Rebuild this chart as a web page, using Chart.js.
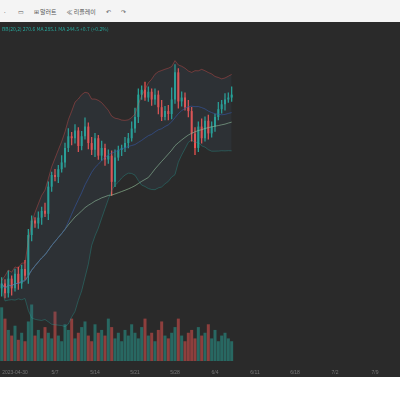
<!DOCTYPE html>
<html><head><meta charset="utf-8">
<script src="https://cdn.jsdelivr.net/npm/chart.js@4"></script>
<style>
body{margin:0;width:400px;height:400px;background:#fff;font-family:"Noto Sans CJK KR","Noto Sans",sans-serif;overflow:hidden}
#bar{height:22px;font-size:6px;color:#555;display:flex;align-items:center;gap:10px;padding-left:2px;border-bottom:1px solid #ddd;background:#f4f4f4}
#wrap{position:absolute;top:22px;left:0;width:400px;height:355px;background:#2a2a2a}
#leg{position:absolute;top:3px;left:2px;font-size:5px;color:#26a69a;z-index:2}
canvas{position:absolute;top:0;left:0}
</style></head><body>
<div id="bar"><span>ㆍ</span><span>▭</span><span>⊞ 알러트</span><span>≪ 리플레이</span><span>↶</span><span>↷</span></div>
<div id="wrap"><div id="leg">BB(20,2) 270.6 MA 285.1 MA 244.5 +0.7 (+0.2%)</div><canvas id="c" width="400" height="355" style="width:400px;height:355px"></canvas></div>
<script>
// closes (price units)
const closes=[110,100,115,105,120,110,125,118,160,175,172,178,185,182,210,222,220,228,235,250,262,260,268,252,262,272,255,248,260,242,250,238,242,215,240,248,250,255,260,270,282,305,310,302,308,300,305,292,282,288,285,300,328,298,302,292,288,265,250,272,260,278,265,272,282,290,295,300,302,305];
const wickUp=[6,4,8,3,5,7,4,9,6,5,3,6,4,8,5,3,6,4,7,5,8,4,6,3,5,9,4,6,5,3,7,4,6,5,8,4,3,6,5,7,9,6,4,8,5,3,6,4,7,5,6,12,8,4,6,5,7,4,6,5,8,4,6,5,3,7,4,6,5,8];
const wickDn=[8,5,4,7,3,6,5,4,8,6,4,5,7,3,6,5,4,6,3,5,4,7,5,6,4,3,6,5,7,4,5,6,4,14,5,3,6,4,5,3,4,6,5,3,4,6,5,7,4,3,6,5,4,7,5,3,6,8,7,4,5,3,6,4,5,3,4,6,3,4];
const volumes=[38,30,22,18,25,15,20,14,28,40,18,22,16,24,20,16,35,18,14,26,22,30,16,20,24,28,18,14,26,20,22,18,30,24,16,20,14,22,18,26,20,16,24,30,18,20,14,22,28,18,16,20,24,30,18,14,20,22,16,24,18,20,26,16,22,14,18,20,16,14];
const dates=['2023-04-30','5/7','5/14','5/21','5/28','6/4','6/11','6/18','7/2','7/9'];
const N=120;
const labels=Array.from({length:N},(_,i)=>i);
const opens=closes.map((c,i)=>i?closes[i-1]:c-5);
const up=closes.map((c,i)=>c>=opens[i]);
const hi=closes.map((c,i)=>Math.max(c,opens[i])+wickUp[i]);
const lo=closes.map((c,i)=>Math.min(c,opens[i])-wickDn[i]);
function sma(p){return closes.map((_,i)=>{const s=closes.slice(Math.max(0,i-p+1),i+1);return s.reduce((a,b)=>a+b,0)/s.length;});}
const mid=sma(20),ma60=sma(45);
const sd=closes.map((_,i)=>{const s=closes.slice(Math.max(0,i-19),i+1);const m=mid[i];return Math.sqrt(s.reduce((a,b)=>a+(b-m)**2,0)/s.length);});
const upper=mid.map((m,i)=>m+2*sd[i]+3),lower=mid.map((m,i)=>m-2*sd[i]-3);
const G='#26a69a',R='#ef5350';
const col=up.map(u=>u?G:R);
new Chart(document.getElementById('c'),{
 data:{labels,datasets:[
  {type:'line',data:upper,borderColor:'rgba(239,83,80,.6)',borderWidth:.6,pointRadius:0,yAxisID:'p',fill:'+1',backgroundColor:'rgba(70,110,140,.12)'},
  {type:'line',data:lower,borderColor:'rgba(38,166,154,.6)',borderWidth:.6,pointRadius:0,yAxisID:'p'},
  {type:'line',data:mid,borderColor:'#3355aa',borderWidth:.6,pointRadius:0,yAxisID:'p'},
  {type:'line',data:ma60,borderColor:'#9bc9a0',borderWidth:.6,pointRadius:0,yAxisID:'p'},
  {type:'bar',data:closes.map((c,i)=>[lo[i],hi[i]]),backgroundColor:col,barThickness:0.6,yAxisID:'p',grouped:false},
  {type:'bar',data:closes.map((c,i)=>[opens[i],c===opens[i]?c+1:c]),backgroundColor:col,barPercentage:.6,categoryPercentage:1,yAxisID:'p',grouped:false},
  {type:'bar',data:volumes,backgroundColor:up.map(u=>u?'rgba(38,166,154,.5)':'rgba(239,83,80,.5)'),barPercentage:.9,categoryPercentage:1,yAxisID:'v',grouped:false}
 ]},
 options:{animation:false,responsive:false,maintainAspectRatio:false,devicePixelRatio:1,
  layout:{padding:0},
  plugins:{legend:{display:false},tooltip:{enabled:false}},
  scales:{
   x:{grid:{display:false},border:{display:false},ticks:{color:'#777',font:{size:5},maxRotation:0,autoSkip:false,padding:1,
     callback:(v,i)=>i%12===4?dates[Math.floor(i/12)]:''}},
   p:{display:false,min:30,max:380},
   v:{display:false,min:0,max:240}
  }}
});
</script>
</body></html>
